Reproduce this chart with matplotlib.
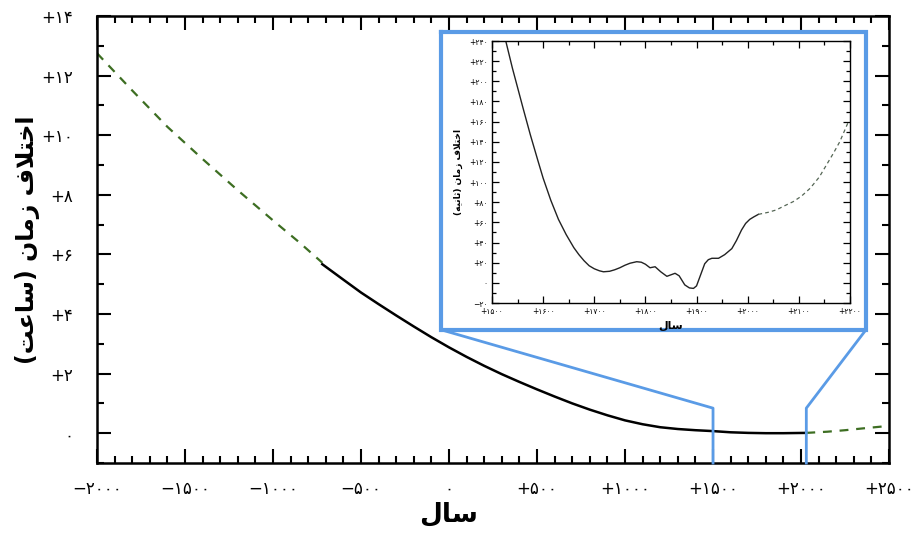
import matplotlib
matplotlib.use("Agg")
import matplotlib.pyplot as plt
from matplotlib.ticker import MultipleLocator, FuncFormatter

plt.rcParams['font.family'] = ['DejaVu Sans']

# نمودار اصلی (ساعت)
old_years = [-2000, -1800, -1600, -1400, -1200, -1000, -850, -720]
old_hours = [12.75, 11.5, 10.28, 9.2, 8.15, 7.14, 6.4, 5.72]

obs_years = [-720, -600, -500, -400, -300, -200, -100, 0, 100, 200, 300, 400,
             500, 600, 700, 800, 900, 1000, 1100, 1200, 1300, 1400, 1500, 1600,
             1700, 1800, 1900, 2030]
obs_hours = [5.67, 5.15, 4.72, 4.33, 3.95, 3.58, 3.22, 2.88, 2.56, 2.26, 1.98, 1.72,
             1.47, 1.23, 1.0, 0.79, 0.6, 0.43, 0.3, 0.2, 0.14, 0.1, 0.07, 0.03,
             0.01, 0.0, 0.0, 0.01]

fut_years = [2030, 2150, 2250, 2350, 2490]
fut_hours = [0.01, 0.05, 0.1, 0.16, 0.24]

# نمودار کوچک (ثانیه)
in_years = [1520, 1527, 1540, 1550, 1561, 1575, 1590, 1600, 1615, 1630, 1645, 1660,
            1670, 1680, 1690, 1700, 1710, 1718, 1730, 1740, 1750, 1760, 1770, 1783,
            1792, 1800, 1809, 1814, 1819, 1830, 1842, 1850, 1858, 1866, 1877, 1886,
            1894, 1900, 1908, 1916, 1923, 1930, 1943, 1955, 1969, 1978, 1988, 1996,
            2004, 2012, 2021]
in_secs = [254, 240, 213, 194, 173, 147, 121, 104, 82, 63, 48, 35,
           28, 22, 17, 14, 12, 11, 11.5, 13, 15, 17.5, 19.5, 21,
           20.5, 18.5, 15, 15.5, 16, 11, 6.5, 8, 9.5, 7, -2, -5,
           -5.5, -3, 8, 19, 23, 24.4, 24.4, 28, 34, 42, 52.5, 59,
           63, 65.5, 68]

in_fut_years = [2021, 2040, 2056, 2070, 2089, 2105, 2122, 2140, 2154, 2168, 2180, 2197]
in_fut_secs = [68, 70, 72.4, 76, 80.6, 86, 93.8, 105, 117, 129, 140, 160]

# متن فارسی (شکل های نمایشی، ترتیب چپ به راست)
SAL = '\uFEDD\uFE8E\uFEB3'
EKHTELAF = '\uFED1\uFEFC\uFE98\uFEA7\uFE8D'
ZAMAN = '\uFEE5\uFE8E\uFEE3\uFEAF'
SAAT = '\uFE96\uFECB\uFE8E\uFEB3'
SANIYE = '\uFEEA\uFEF4\uFEE7\uFE8E\uFE9B'

FA = str.maketrans('0123456789', '۰۱۲۳۴۵۶۷۸۹')


def fa(v, pos=None):
    n = int(round(v))
    s = str(abs(n)).translate(FA)
    if n > 0:
        return '+' + s
    if n < 0:
        return '\u2212' + s
    return s


green = '#3d6e22'
blue = '#5a9be6'

fig = plt.figure(figsize=(9.17, 5.35), dpi=100)
ax = fig.add_axes([0.1058, 0.1346, 0.8637, 0.8355])

ax.plot(old_years, old_hours, color=green, lw=1.6, dashes=(4, 3.5))
ax.plot(obs_years, obs_hours, color='black', lw=1.8)
ax.plot(fut_years, fut_hours, color=green, lw=1.6, dashes=(4, 3.5))

ax.set_xlim(-2000, 2500)
ax.set_ylim(-1, 14)
ax.xaxis.set_major_locator(MultipleLocator(500))
ax.xaxis.set_minor_locator(MultipleLocator(100))
ax.yaxis.set_major_locator(MultipleLocator(2))
ax.yaxis.set_minor_locator(MultipleLocator(1))
ax.xaxis.set_major_formatter(FuncFormatter(fa))
ax.yaxis.set_major_formatter(FuncFormatter(fa))
ax.tick_params(which='both', direction='in', top=True, right=True, width=1.5)
ax.tick_params(which='major', length=10, labelsize=12)
ax.tick_params(which='minor', length=5)
ax.tick_params(axis='x', pad=12)
ax.tick_params(axis='y', pad=17)
for s in ax.spines.values():
    s.set_linewidth(1.8)

ax.set_xlabel(SAL, fontsize=19, fontweight='bold')
ax.xaxis.set_label_coords(0.444, -0.085)
ax.set_ylabel('(' + SAAT + ') ' + ZAMAN + ' ' + EKHTELAF,
              fontsize=17, fontweight='bold')
ax.yaxis.set_label_coords(-0.072, 0.5)

# کادر آبی بزرگنمایی
ax.plot([-45, 2369, 2369, -45, -45], [13.46, 13.46, 3.47, 3.47, 13.46],
        color=blue, lw=3, clip_on=False, solid_joinstyle='miter', zorder=5)
ax.plot([1500, 1500, -45], [-1, 0.84, 3.47], color=blue, lw=2, clip_on=False, zorder=5)
ax.plot([2030, 2030, 2369], [-1, 0.84, 3.47], color=blue, lw=2, clip_on=False, zorder=5)

# نمودار کوچک
ins = fig.add_axes([0.5365, 0.4336, 0.3904, 0.4897])
ins.plot(in_years, in_secs, color='#222222', lw=1.0)
ins.plot(in_fut_years, in_fut_secs, color='#556655', lw=0.9, dashes=(3, 2.5))
ins.set_xlim(1500, 2200)
ins.set_ylim(-20, 240)
ins.xaxis.set_major_locator(MultipleLocator(100))
ins.xaxis.set_minor_locator(MultipleLocator(50))
ins.yaxis.set_major_locator(MultipleLocator(20))
ins.yaxis.set_minor_locator(MultipleLocator(10))
ins.xaxis.set_major_formatter(FuncFormatter(fa))
ins.yaxis.set_major_formatter(FuncFormatter(fa))
ins.tick_params(which='both', direction='in', top=True, right=True, width=0.9)
ins.tick_params(which='major', length=5, labelsize=5.5, pad=3)
ins.tick_params(which='minor', length=3)
for s in ins.spines.values():
    s.set_linewidth(1.0)
ins.set_xlabel(SAL, fontsize=8, fontweight='bold', labelpad=3)
ins.set_ylabel('(' + SANIYE + ') ' + ZAMAN + ' ' + EKHTELAF,
               fontsize=6.5, fontweight='bold', labelpad=4)

fig.savefig('out.png', dpi=100)
